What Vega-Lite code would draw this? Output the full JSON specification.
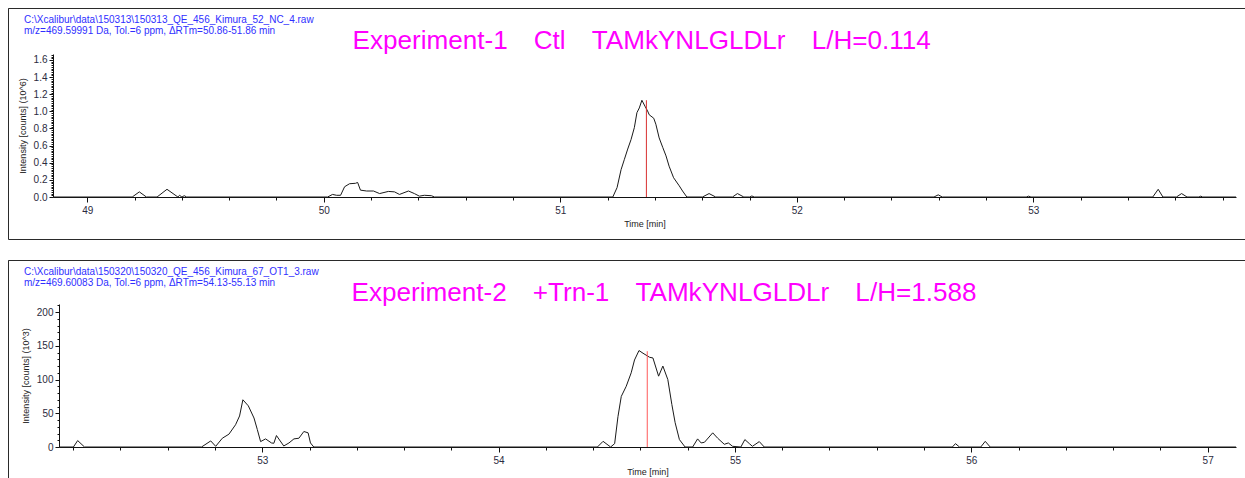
{
  "$schema": "https://vega.github.io/schema/vega-lite/v6.json",
  "background": "white",
  "padding": {"left": 7, "top": 7, "right": 0, "bottom": 0},
  "spacing": 19,
  "config": {
    "view": {"stroke": "#2a2a2a", "strokeWidth": 1, "strokeDash": [1245, 231, 1476]},
    "font": "Liberation Sans",
    "axis": {"labelFont": "Liberation Sans", "titleFont": "Liberation Sans", "grid": false},
    "title": {"font": "Liberation Sans"}
  },
  "vconcat": [
    {
      "width": 1245,
      "height": 231,
      "title": {
        "text": ["C:\\Xcalibur\\data\\150313\\150313_QE_456_Kimura_52_NC_4.raw", "m/z=469.59991 Da, Tol.=6 ppm, ΔRTm=50.86-51.86 min"],
        "anchor": "start", "frame": "group", "dx": 16, "offset": -28,
        "fontSize": 10, "fontWeight": "normal", "color": "#2f2fff", "lineHeight": 11
      },
      "resolve": {"axis": {"x": "independent", "y": "independent"}},
      "layer": [
        {
          "data": {"values": [
            {"t": 48.855, "v": 0}, {"t": 49.19, "v": 0}, {"t": 49.22, "v": 0.06}, {"t": 49.25, "v": 0},
            {"t": 49.295, "v": 0}, {"t": 49.337, "v": 0.09}, {"t": 49.383, "v": 0}, {"t": 49.39, "v": 0.02},
            {"t": 49.4, "v": 0}, {"t": 49.41, "v": 0.015}, {"t": 49.42, "v": 0},
            {"t": 50.016, "v": 0}, {"t": 50.037, "v": 0.03}, {"t": 50.054, "v": 0.02}, {"t": 50.071, "v": 0.02},
            {"t": 50.088, "v": 0.12}, {"t": 50.109, "v": 0.155}, {"t": 50.134, "v": 0.16}, {"t": 50.143, "v": 0.17},
            {"t": 50.155, "v": 0.08}, {"t": 50.181, "v": 0.07}, {"t": 50.21, "v": 0.07}, {"t": 50.236, "v": 0.04},
            {"t": 50.273, "v": 0.065}, {"t": 50.299, "v": 0.06}, {"t": 50.32, "v": 0.03}, {"t": 50.358, "v": 0.07},
            {"t": 50.383, "v": 0.04}, {"t": 50.404, "v": 0.01}, {"t": 50.425, "v": 0.02}, {"t": 50.455, "v": 0.015},
            {"t": 50.468, "v": 0},
            {"t": 51.222, "v": 0}, {"t": 51.24, "v": 0.11}, {"t": 51.257, "v": 0.32}, {"t": 51.271, "v": 0.44},
            {"t": 51.285, "v": 0.56}, {"t": 51.299, "v": 0.67}, {"t": 51.313, "v": 0.81}, {"t": 51.324, "v": 0.985},
            {"t": 51.334, "v": 1.04}, {"t": 51.345, "v": 1.13}, {"t": 51.358, "v": 1.06}, {"t": 51.369, "v": 1.005},
            {"t": 51.376, "v": 0.96}, {"t": 51.395, "v": 0.92}, {"t": 51.404, "v": 0.85}, {"t": 51.418, "v": 0.69},
            {"t": 51.433, "v": 0.58}, {"t": 51.447, "v": 0.48}, {"t": 51.46, "v": 0.36}, {"t": 51.479, "v": 0.225},
            {"t": 51.503, "v": 0.13}, {"t": 51.517, "v": 0.07}, {"t": 51.535, "v": 0},
            {"t": 51.601, "v": 0}, {"t": 51.629, "v": 0.04}, {"t": 51.657, "v": 0},
            {"t": 51.728, "v": 0}, {"t": 51.749, "v": 0.04}, {"t": 51.776, "v": 0},
            {"t": 51.8, "v": 0}, {"t": 51.81, "v": 0.012}, {"t": 51.82, "v": 0},
            {"t": 52.58, "v": 0}, {"t": 52.598, "v": 0.025}, {"t": 52.615, "v": 0},
            {"t": 52.97, "v": 0}, {"t": 52.98, "v": 0.01}, {"t": 52.99, "v": 0},
            {"t": 53.505, "v": 0}, {"t": 53.528, "v": 0.09}, {"t": 53.548, "v": 0},
            {"t": 53.605, "v": 0}, {"t": 53.627, "v": 0.04}, {"t": 53.65, "v": 0},
            {"t": 53.7, "v": 0}, {"t": 53.708, "v": 0.01}, {"t": 53.716, "v": 0},
            {"t": 53.857, "v": 0}
          ]},
          "mark": {"type": "line", "color": "#1a1a1a", "strokeWidth": 1},
          "encoding": {
            "x": {
              "field": "t", "type": "quantitative",
              "scale": {"domain": [48.855, 53.857], "range": [45, 1228], "nice": false, "zero": false},
              "axis": {
                "orient": "bottom", "offset": -42,
                "values": [49,49.2,49.4,49.6,49.8,50,50.2,50.4,50.6,50.8,51,51.2,51.4,51.6,51.8,52,52.2,52.4,52.6,52.8,53,53.2,53.4,53.6,53.8],
                "labelExpr": "abs(datum.value - round(datum.value)) < 0.001 ? format(datum.value, 'd') : ''",
                "tickSize": {"condition": {"test": "abs(datum.value - round(datum.value)) < 0.001", "value": 5}, "value": 3},
                "domainColor": "#111111", "tickColor": "#111111",
                "labelFontSize": 10, "labelColor": "#2b2b40", "labelPadding": 3, "labelOverlap": false, "labelFlush": false,
                "title": "Time [min]", "titleFontSize": 9, "titleFontWeight": "normal", "titleColor": "#222222", "titlePadding": 4
              }
            },
            "y": {
              "field": "v", "type": "quantitative",
              "scale": {"domain": [0, 1.67], "range": [189, 46], "nice": false, "zero": false},
              "axis": {
                "orient": "left", "offset": -45,
                "values": [0,0.02,0.04,0.06,0.08,0.1,0.12,0.14,0.16,0.18,0.2,0.22,0.24,0.26,0.28,0.3,0.32,0.34,0.36,0.38,0.4,0.42,0.44,0.46,0.48,0.5,0.52,0.54,0.56,0.58,0.6,0.62,0.64,0.66,0.68,0.7,0.72,0.74,0.76,0.78,0.8,0.82,0.84,0.86,0.88,0.9,0.92,0.94,0.96,0.98,1,1.02,1.04,1.06,1.08,1.1,1.12,1.14,1.16,1.18,1.2,1.22,1.24,1.26,1.28,1.3,1.32,1.34,1.36,1.38,1.4,1.42,1.44,1.46,1.48,1.5,1.52,1.54,1.56,1.58,1.6,1.62,1.64,1.66],
                "labelExpr": "abs(datum.value*5 - round(datum.value*5)) < 0.001 ? format(datum.value, '.1f') : ''",
                "tickSize": {"condition": {"test": "abs(datum.value*5 - round(datum.value*5)) < 0.001", "value": 4}, "value": 2},
                "domainColor": "#111111", "tickColor": "#111111",
                "labelFontSize": 10, "labelColor": "#2b2b40", "labelPadding": 2, "labelOverlap": false, "labelFlush": false,
                "title": "Intensity [counts] (10^6)", "titleFontSize": 9, "titleFontWeight": "normal", "titleColor": "#222222", "titlePadding": 6
              }
            }
          }
        },
        {
          "data": {"values": [{"t": 51.364, "lo": 0, "hi": 1.13}]},
          "mark": {"type": "rule", "color": "#d83030", "strokeWidth": 1},
          "encoding": {
            "x": {
              "field": "t", "type": "quantitative",
              "scale": {"domain": [48.855, 53.857], "range": [45, 1228], "nice": false, "zero": false},
              "axis": {
                "orient": "top", "offset": 0, "domain": false, "ticks": false, "labels": false,
                "title": "Experiment-1\u2002\u2002Ctl\u2002\u2002TAMkYNLGLDLr\u2002\u2002L/H=0.114",
                "titleFontSize": 26.1, "titleFontWeight": "normal", "titleColor": "#ff00ff",
                "titleBaseline": "alphabetic", "titleAlign": "left", "titleX": 344, "titleY": 40
              }
            },
            "y": {"field": "lo", "type": "quantitative", "scale": {"domain": [0, 1.67], "range": [189, 46], "nice": false, "zero": false}, "axis": null},
            "y2": {"field": "hi"}
          }
        }
      ]
    },
    {
      "width": 1245,
      "height": 231,
      "title": {
        "text": ["C:\\Xcalibur\\data\\150320\\150320_QE_456_Kimura_67_OT1_3.raw", "m/z=469.60083 Da, Tol.=6 ppm, ΔRTm=54.13-55.13 min"],
        "anchor": "start", "frame": "group", "dx": 16, "offset": -28,
        "fontSize": 10, "fontWeight": "normal", "color": "#2f2fff", "lineHeight": 11
      },
      "resolve": {"axis": {"x": "independent", "y": "independent"}},
      "layer": [
        {
          "data": {"values": [
            {"t": 52.14, "v": 0}, {"t": 52.201, "v": 0}, {"t": 52.219, "v": 9.5}, {"t": 52.248, "v": 0},
            {"t": 52.743, "v": 0}, {"t": 52.782, "v": 9}, {"t": 52.803, "v": 1}, {"t": 52.831, "v": 13},
            {"t": 52.859, "v": 19}, {"t": 52.887, "v": 33}, {"t": 52.904, "v": 46}, {"t": 52.918, "v": 70},
            {"t": 52.941, "v": 61}, {"t": 52.965, "v": 43}, {"t": 52.979, "v": 26}, {"t": 52.993, "v": 8},
            {"t": 53.014, "v": 12}, {"t": 53.039, "v": 6}, {"t": 53.049, "v": 5.5}, {"t": 53.06, "v": 17},
            {"t": 53.091, "v": 1.5}, {"t": 53.113, "v": 6}, {"t": 53.134, "v": 12}, {"t": 53.155, "v": 13},
            {"t": 53.176, "v": 23}, {"t": 53.194, "v": 21}, {"t": 53.204, "v": 6}, {"t": 53.218, "v": 0},
            {"t": 54.418, "v": 0}, {"t": 54.442, "v": 8.4}, {"t": 54.474, "v": 0}, {"t": 54.491, "v": 5},
            {"t": 54.505, "v": 45}, {"t": 54.519, "v": 75}, {"t": 54.54, "v": 90}, {"t": 54.561, "v": 110},
            {"t": 54.575, "v": 129}, {"t": 54.594, "v": 143}, {"t": 54.611, "v": 139}, {"t": 54.639, "v": 133},
            {"t": 54.653, "v": 132}, {"t": 54.677, "v": 105}, {"t": 54.695, "v": 120}, {"t": 54.716, "v": 100},
            {"t": 54.733, "v": 63}, {"t": 54.747, "v": 36}, {"t": 54.765, "v": 11}, {"t": 54.789, "v": 0},
            {"t": 54.821, "v": 0}, {"t": 54.842, "v": 12}, {"t": 54.857, "v": 6}, {"t": 54.871, "v": 7},
            {"t": 54.906, "v": 21}, {"t": 54.927, "v": 13}, {"t": 54.955, "v": 4}, {"t": 54.972, "v": 6},
            {"t": 54.99, "v": 1}, {"t": 55.025, "v": 0}, {"t": 55.042, "v": 11}, {"t": 55.061, "v": 5},
            {"t": 55.074, "v": 1}, {"t": 55.103, "v": 8}, {"t": 55.124, "v": 0},
            {"t": 55.92, "v": 0}, {"t": 55.933, "v": 5}, {"t": 55.95, "v": 0},
            {"t": 56.04, "v": 0}, {"t": 56.059, "v": 8.4}, {"t": 56.08, "v": 0},
            {"t": 57.12, "v": 0}
          ]},
          "mark": {"type": "line", "color": "#1a1a1a", "strokeWidth": 1},
          "encoding": {
            "x": {
              "field": "t", "type": "quantitative",
              "scale": {"domain": [52.14, 57.12], "range": [51, 1228], "nice": false, "zero": false},
              "axis": {
                "orient": "bottom", "offset": -44,
                "values": [52.2,52.4,52.6,52.8,53,53.2,53.4,53.6,53.8,54,54.2,54.4,54.6,54.8,55,55.2,55.4,55.6,55.8,56,56.2,56.4,56.6,56.8,57],
                "labelExpr": "abs(datum.value - round(datum.value)) < 0.001 ? format(datum.value, 'd') : ''",
                "tickSize": {"condition": {"test": "abs(datum.value - round(datum.value)) < 0.001", "value": 5}, "value": 3},
                "domainColor": "#111111", "tickColor": "#111111",
                "labelFontSize": 10, "labelColor": "#2b2b40", "labelPadding": 3, "labelOverlap": false, "labelFlush": false,
                "title": "Time [min]", "titleFontSize": 9, "titleFontWeight": "normal", "titleColor": "#222222", "titlePadding": 2
              }
            },
            "y": {
              "field": "v", "type": "quantitative",
              "scale": {"domain": [0, 212], "range": [187, 44], "nice": false, "zero": false},
              "axis": {
                "orient": "left", "offset": -51,
                "values": [0,10,20,30,40,50,60,70,80,90,100,110,120,130,140,150,160,170,180,190,200,210],
                "labelExpr": "datum.value % 50 === 0 ? format(datum.value, 'd') : ''",
                "tickSize": {"condition": {"test": "datum.value % 50 === 0", "value": 4}, "value": 2},
                "domainColor": "#111111", "tickColor": "#111111",
                "labelFontSize": 10, "labelColor": "#2b2b40", "labelPadding": 2, "labelOverlap": false, "labelFlush": false,
                "title": "Intensity [counts] (10^3)", "titleFontSize": 9, "titleFontWeight": "normal", "titleColor": "#222222", "titlePadding": 6
              }
            }
          }
        },
        {
          "data": {"values": [{"t": 54.629, "lo": 0, "hi": 142}]},
          "mark": {"type": "rule", "color": "#ff5a5a", "strokeWidth": 1},
          "encoding": {
            "x": {
              "field": "t", "type": "quantitative",
              "scale": {"domain": [52.14, 57.12], "range": [51, 1228], "nice": false, "zero": false},
              "axis": {
                "orient": "top", "offset": 0, "domain": false, "ticks": false, "labels": false,
                "title": "Experiment-2\u2002\u2002+Trn-1\u2002\u2002TAMkYNLGLDLr\u2002\u2002L/H=1.588",
                "titleFontSize": 26.1, "titleFontWeight": "normal", "titleColor": "#ff00ff",
                "titleBaseline": "alphabetic", "titleAlign": "left", "titleX": 343, "titleY": 40
              }
            },
            "y": {"field": "lo", "type": "quantitative", "scale": {"domain": [0, 212], "range": [187, 44], "nice": false, "zero": false}, "axis": null},
            "y2": {"field": "hi"}
          }
        }
      ]
    }
  ]
}
